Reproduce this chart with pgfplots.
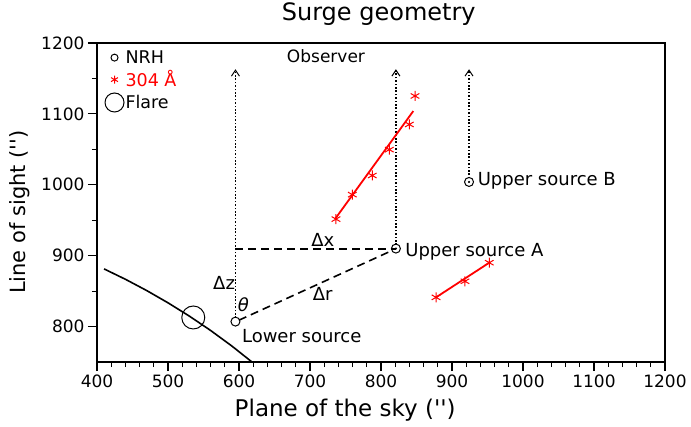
\documentclass[border=0pt]{standalone}
\usepackage{fontspec}
\setmainfont{DejaVu Sans}[Ligatures=TeXOff]
\usepackage{pgfplots}
\pgfplotsset{compat=1.18}
\usetikzlibrary{arrows.meta}

\begin{document}
\begin{tikzpicture}
\useasboundingbox (-97pt,-64pt) rectangle (594pt,362pt);
\begin{axis}[
  scale only axis, width=568pt, height=319pt,
  at={(0,0)}, anchor=south west,
  xmin=400, xmax=1200, ymin=750, ymax=1200,
  xtick={400,500,...,1200}, ytick={800,900,...,1200},
  minor x tick num=4, minor y tick num=1,
  tick align=outside, xtick pos=left, ytick pos=left,
  major tick length=9pt, minor tick length=5pt,
  tick style={line width=1.2pt, black},
  axis line style={line width=1.6pt},
  ticklabel style={font=\fontsize{17}{19}\selectfont},
  /pgf/number format/assume math mode=true,
  /pgf/number format/set thousands separator={},
  title={Surge geometry},
  title style={font=\fontsize{24}{26}\selectfont, at={(axis description cs:0.496,1)}, anchor=center, yshift=23pt},
  xlabel={Plane of the sky ('')},
  ylabel={Line of sight ('')},
  xlabel style={font=\fontsize{23}{25}\selectfont, at={(axis description cs:0.437,0)}, anchor=center, yshift=-48pt},
  ylabel style={font=\fontsize{21}{23}\selectfont, at={(axis description cs:0,0.47)}, anchor=center, yshift=77pt},
  legend style={at={(axis description cs:0.012,0.985)}, anchor=north west, draw=none, fill=none,
    font=\fontsize{17.5}{19}\selectfont, row sep=3pt, inner xsep=1pt, inner ysep=1pt,
    nodes={inner sep=1.5pt}},
  legend cell align=left,
  legend image code/.code={\draw[#1] plot coordinates {(0.3cm,0cm)};},
]
\addlegendimage{only marks, black, mark=o, mark size=3.5pt, mark options={line width=1pt}}
\addlegendentry{NRH}
\addlegendimage{only marks, red, mark=asterisk, mark size=4pt, mark options={line width=1pt}}
\addlegendentry{\textcolor{red}{304 Å}}
\addlegendimage{only marks, black, mark=o, mark size=9.5pt, mark options={line width=1pt}}
\addlegendentry{Flare}

% solar limb
\addplot[black, line width=1.6pt] coordinates {
  (410,881.3) (440,866.7) (470,850.8) (500,833.5) (530,814.8) (560,794.5) (590,772.5) (618,750.2)};
% flare
\addplot[only marks, black, mark=o, mark size=11.5pt, mark options={line width=1pt}] coordinates {(535.6,812.8)};

% observer direction
\addplot[line width=1.6pt, dash pattern=on 1.6pt off 1.8pt, -{Straight Barb[length=6pt,width=8pt,line width=1pt]}]
  coordinates {(595,812) (595,1163)};
\addplot[line width=1.6pt, dash pattern=on 1.6pt off 1.8pt, -{Straight Barb[length=6pt,width=8pt,line width=1pt]}]
  coordinates {(821,915) (821,1163)};
\addplot[line width=1.6pt, dash pattern=on 1.6pt off 1.8pt, -{Straight Barb[length=6pt,width=8pt,line width=1pt]}]
  coordinates {(924,1009) (924,1163)};

% geometry
\addplot[line width=1.6pt, dash pattern=on 8pt off 5pt] coordinates {(595,909) (821,909)};
\addplot[line width=1.6pt, dash pattern=on 8pt off 5pt] coordinates {(600,809) (815,907)};

% 304 A
\addplot[red, line width=1.8pt] coordinates {(735.2,951.6) (845.5,1104)};
\addplot[only marks, red, mark=asterisk, mark size=5pt, mark options={line width=1pt}] coordinates {
  (736.6,951.6) (759.6,986.1) (787.7,1013.1) (811.7,1049.6) (839.9,1085.1) (847.9,1125.3)};
\addplot[red, line width=1.8pt] coordinates {(877.5,841.2) (952.5,890.1)};
\addplot[only marks, red, mark=asterisk, mark size=5pt, mark options={line width=1pt}] coordinates {
  (877.5,841.2) (918.3,863.9) (952.5,890.1)};

% NRH sources
\addplot[only marks, black, mark=o, mark size=4.5pt, mark options={line width=1pt, fill=white}] coordinates {
  (595,807) (821,910) (924,1004)};
\addplot[only marks, black, mark=*, mark size=0.9pt] coordinates {(821,910) (924,1004)};

\node[font=\fontsize{17}{19}\selectfont] at (axis cs:722.5,1181.7) {Observer};
\node[font=\fontsize{18}{20}\selectfont] at (axis cs:718,922) {Δx};
\node[font=\fontsize{18}{20}\selectfont] at (axis cs:579,862) {Δz};
\node[font=\fontsize{18}{20}\selectfont\itshape] at (axis cs:606,831) {θ};
\node[font=\fontsize{18}{20}\selectfont] at (axis cs:718,846) {Δr};
\node[font=\fontsize{18}{20}\selectfont, anchor=west, inner sep=0pt] at (axis cs:604,787) {Lower source};
\node[font=\fontsize{18}{20}\selectfont, anchor=west, inner sep=0pt] at (axis cs:834,905) {Upper source A};
\node[font=\fontsize{18}{20}\selectfont, anchor=west, inner sep=0pt] at (axis cs:936,1005) {Upper source B};
\end{axis}
\end{tikzpicture}
\end{document}
